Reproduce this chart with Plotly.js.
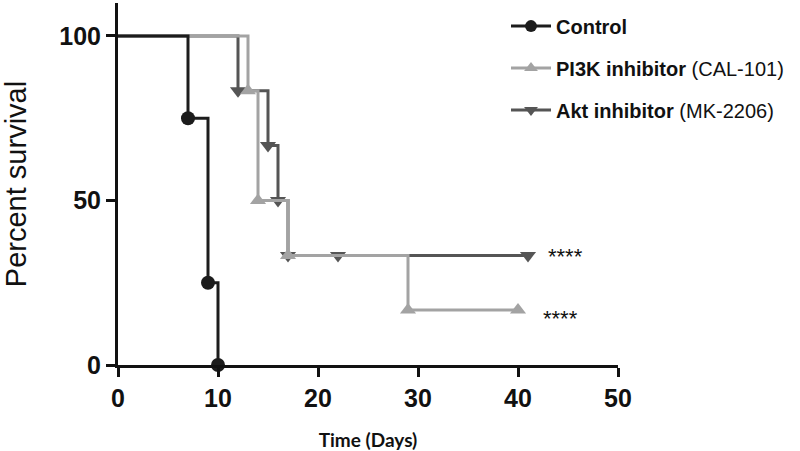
<!DOCTYPE html>
<html>
<head>
<meta charset="utf-8">
<script src="https://cdn.plot.ly/plotly-3.0.1.min.js"></script>
<style>html,body{margin:0;padding:0;background:#fff;}#chart{width:800px;height:451px;}</style>
</head>
<body>
<div id="chart"></div>
<script>
// Kaplan-Meier step data (time in days, percent survival)
const controlDays = [0, 7, 9, 10];
const controlSurv = [100, 75, 25, 0];
const pi3kDays = [0, 13, 14, 17, 29, 40];
const pi3kSurv = [100, 83.3, 50, 33.3, 16.7, 16.7];
const aktDays = [0, 12, 15, 16, 17, 22, 41];
const aktSurv = [100, 83.3, 66.7, 50, 33.3, 33.3, 33.3];
const seriesNames = ['<b>Control</b>', '<b>PI3K inhibitor</b> (CAL-101)', '<b>Akt inhibitor</b> (MK-2206)'];
const sigLabels = ['****', '****'];
const xTicks = [0, 10, 20, 30, 40, 50];
const yTicks = [0, 50, 100];

const cControl = '#1c1c1c', cPi3k = '#a3a3a3', cAkt = '#555555';
const msize = 14;
function sizes(arr){ return arr.map((v,i)=> i===0 ? 0 : msize); }

const traces = [
  {x: aktDays, y: aktSurv, mode: 'lines+markers', line: {shape: 'hv', color: cAkt, width: 3},
   marker: {symbol: 'triangle-down', size: sizes(aktDays), color: cAkt, opacity: 1, line: {width: 0}}, showlegend: false, cliponaxis: false},
  {x: pi3kDays, y: pi3kSurv, mode: 'lines+markers', line: {shape: 'hv', color: cPi3k, width: 3},
   marker: {symbol: 'triangle-up', size: sizes(pi3kDays), color: cPi3k, opacity: 1, line: {width: 0}}, showlegend: false, cliponaxis: false},
  {x: controlDays, y: controlSurv, mode: 'lines+markers', line: {shape: 'hv', color: cControl, width: 3},
   marker: {symbol: 'circle', size: sizes(controlDays), color: cControl, opacity: 1, line: {width: 0}}, showlegend: false, cliponaxis: false},
  // legend entries
  {x: [null], y: [null], mode: 'lines+markers', name: seriesNames[0], legendgroup: 'a', legendrank: 1,
   line: {color: cControl, width: 3}, marker: {symbol: 'circle', size: 12, color: cControl}},
  {x: [null], y: [null], mode: 'lines+markers', name: seriesNames[1], legendgroup: 'b', legendrank: 2,
   line: {color: cPi3k, width: 3}, marker: {symbol: 'triangle-up', size: 12, color: cPi3k}},
  {x: [null], y: [null], mode: 'lines+markers', name: seriesNames[2], legendgroup: 'c', legendrank: 3,
   line: {color: cAkt, width: 3}, marker: {symbol: 'triangle-down', size: 12, color: cAkt}}
];

const tickFont = {family: 'Liberation Sans Narrow, Arial Narrow, sans-serif', size: 25, color: '#111'};
const layout = {
  width: 800, height: 451,
  margin: {l: 118, r: 182, t: 3, b: 86},
  paper_bgcolor: '#fff', plot_bgcolor: '#fff',
  showlegend: true,
  legend: {x: 0.776, y: 0.99, xanchor: 'left', yanchor: 'top', traceorder: 'grouped', tracegroupgap: 13,
           itemwidth: 40,
           font: {family: 'Liberation Sans, Arial, sans-serif', size: 20, color: '#111'}, bgcolor: 'rgba(0,0,0,0)'},
  xaxis: {range: [0, 50], tickvals: xTicks, ticktext: xTicks.map(v => '<b>' + v + '</b>'),
          showline: true, linecolor: '#111', linewidth: 3, ticks: 'outside', ticklen: 9, tickwidth: 3, tickcolor: '#111',
          showgrid: false, zeroline: false, tickfont: tickFont,
          title: {text: '<b>Time (Days)</b>', font: {family: 'Lato, sans-serif', size: 19, color: '#111'}, standoff: 26}},
  yaxis: {range: [0, 110], tickvals: yTicks, ticktext: yTicks.map(v => '<b>' + v + '</b>'),
          showline: true, linecolor: '#111', linewidth: 3, ticks: 'outside', ticklen: 9, tickwidth: 3, tickcolor: '#111',
          showgrid: false, zeroline: false, tickfont: tickFont,
          title: {text: 'Percent survival', font: {family: 'Liberation Sans, Arial, sans-serif', size: 29, color: '#111'}, standoff: 40}},
  annotations: [
    {x: 42.8, y: aktSurv[aktSurv.length - 1], xref: 'x', yref: 'y', text: sigLabels[0], showarrow: false,
     xanchor: 'left', yanchor: 'middle', yshift: -1, font: {family: 'Liberation Sans, Arial, sans-serif', size: 22, color: '#111'}},
    {x: 42.3, y: pi3kSurv[pi3kSurv.length - 1], xref: 'x', yref: 'y', text: sigLabels[1], showarrow: false,
     xanchor: 'left', yanchor: 'middle', yshift: -8, font: {family: 'Liberation Sans, Arial, sans-serif', size: 22, color: '#111'}}
  ]
};

Plotly.newPlot('chart', traces, layout, {displayModeBar: false, staticPlot: true});
</script>
</body>
</html>
